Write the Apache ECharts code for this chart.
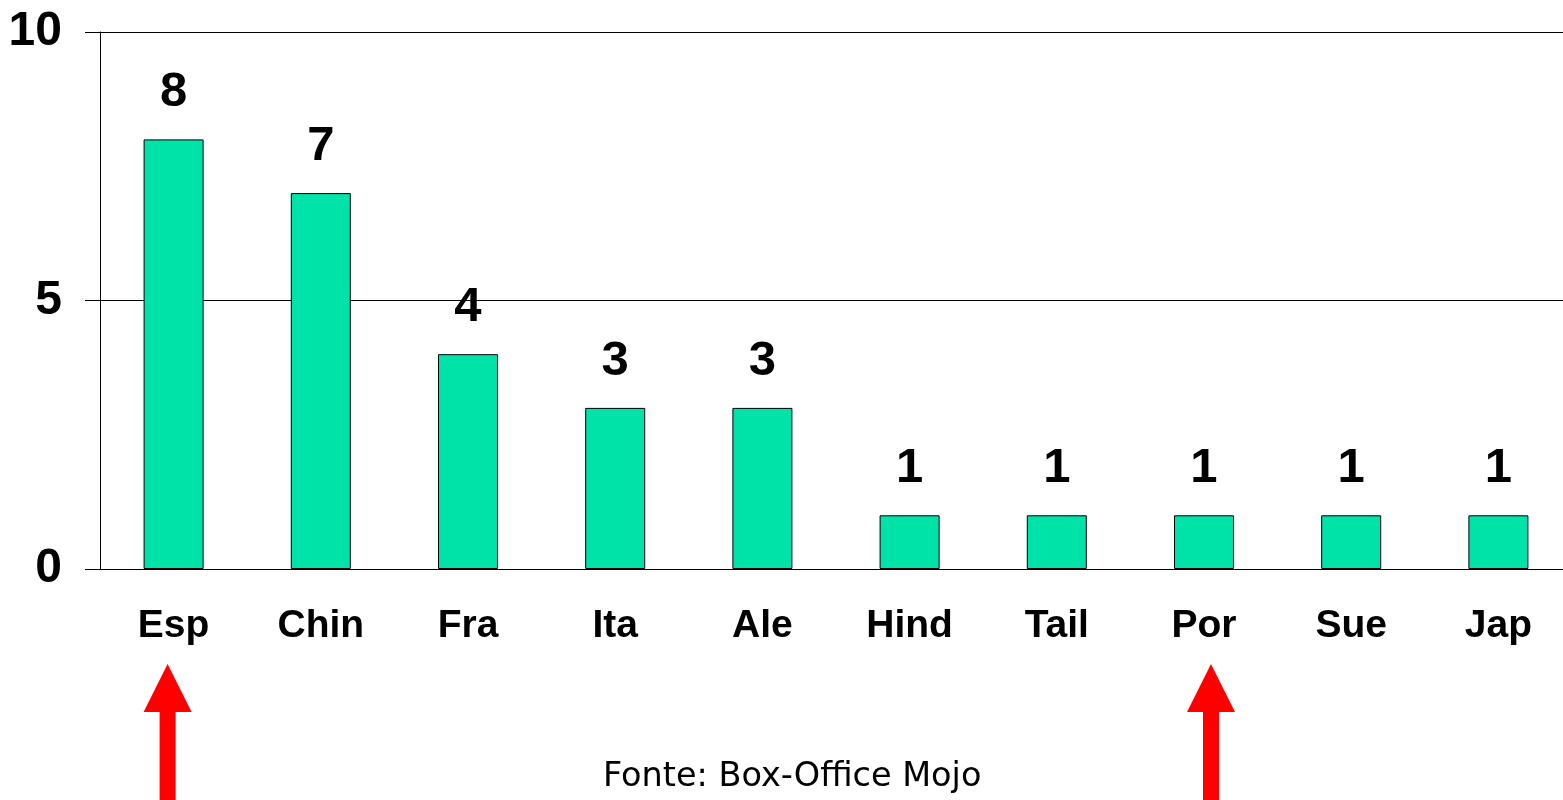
<!DOCTYPE html>
<html>
<head>
<meta charset="utf-8">
<script src="https://cdn.jsdelivr.net/npm/echarts@6/dist/echarts.min.js"></script>
<style>
  html, body { margin: 0; padding: 0; background: #fff; }
  #main { width: 1563px; height: 800px; }
</style>
</head>
<body>
<div id="main"></div>
<script>
var categories = ['Esp', 'Chin', 'Fra', 'Ita', 'Ale', 'Hind', 'Tail', 'Por', 'Sue', 'Jap']
var values     = [8, 7, 4, 3, 3, 1, 1, 1, 1, 1]
var yTicks     = [0, 5, 10]
var marked     = ['Esp', 'Por']   // setas vermelhas
var sourceText = 'Fonte: Box-Office Mojo'

var chart = echarts.init(document.getElementById('main'))

var option = {
    animation: false,
    backgroundColor: '#fff',
    grid: { left: 100, top: 32, width: 1472, bottom: 231, outerBoundsMode: 'none' },
    xAxis: {
        type: 'category',
        data: categories,
        axisLine: { lineStyle: { color: '#000', width: 1 } },
        axisTick: { length: 9, lineStyle: { color: '#000' } },
        axisLabel: {
            margin: 38,
            color: '#000',
            fontFamily: 'Liberation Sans',
            fontWeight: 'bold',
            fontSize: 39
        }
    },
    yAxis: {
        type: 'value',
        min: yTicks[0],
        max: yTicks[yTicks.length - 1],
        interval: yTicks[1] - yTicks[0],
        axisLine: { show: true, lineStyle: { color: '#000', width: 1 } },
        axisTick: { show: true, length: 15, lineStyle: { color: '#000' } },
        splitLine: { lineStyle: { color: '#000', width: 1 } },
        axisLabel: {
            margin: 38,
            color: '#000',
            fontFamily: 'Liberation Sans',
            fontWeight: 'bold',
            fontSize: 48
        }
    },
    series: [{
        type: 'bar',
        data: values,
        barWidth: 60,
        itemStyle: { color: '#00E3A8', borderColor: '#000', borderWidth: 1 },
        label: {
            show: true,
            position: 'top',
            distance: 22,
            color: '#000',
            fontFamily: 'Liberation Sans',
            fontWeight: 'bold',
            fontSize: 49
        }
    }]
}
chart.setOption(option)

// setas e fonte
var arrowShift = { Esp: -6, Por: 7 }
var graphics = [{
    type: 'text',
    left: 603,
    top: 760,
    style: {
        text: sourceText,
        fill: '#000',
        font: '33.5px "DejaVu Sans"'
    }
}]
marked.forEach(function (name) {
    var x = chart.convertToPixel({ xAxisIndex: 0 }, name) + arrowShift[name]
    graphics.push({
        type: 'polygon',
        shape: {
            points: [
                [x, 664], [x + 24, 712], [x + 8, 712], [x + 8, 800],
                [x - 8, 800], [x - 8, 712], [x - 24, 712]
            ]
        },
        style: { fill: '#ff0000' }
    })
})
chart.setOption({ graphic: graphics })
</script>
</body>
</html>
